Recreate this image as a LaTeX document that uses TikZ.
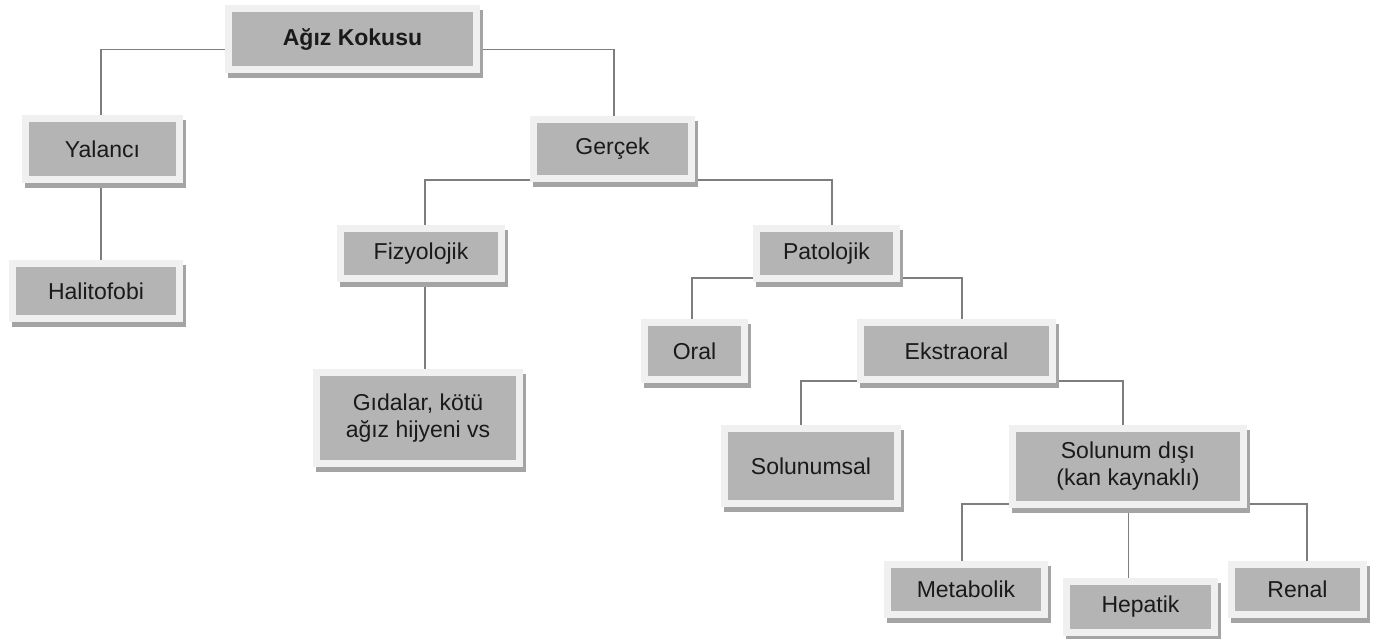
\documentclass[tikz,border=0pt]{standalone}
\usepackage{fontspec}
\setmainfont{Liberation Sans}
\usetikzlibrary{shadows,backgrounds}
\definecolor{framegray}{HTML}{EFF0EF}
\definecolor{innergray}{HTML}{B4B4B4}
\definecolor{shadowgray}{HTML}{A4A4A4}
\definecolor{linegray}{HTML}{7E7E7E}
\definecolor{textgray}{HTML}{1A1A1A}
\tikzset{
  boxnode/.style args={#1x#2}{
    rectangle, inner sep=0pt, minimum width=#1pt, minimum height=#2pt,
    fill=framegray, align=center, text=textgray,
    font=\fontsize{23}{27}\selectfont,
    general shadow={fill=shadowgray, shadow xshift=3pt, shadow yshift=-5pt},
    path picture={\fill[innergray]
      ([shift={(7pt,7pt)}]path picture bounding box.south west) rectangle
      ([shift={(-7pt,-7pt)}]path picture bounding box.north east);}
  },
  conn/.style={draw=linegray, line width=1.4pt}
}
\begin{document}
\begin{tikzpicture}[x=1pt,y=-1pt]
\useasboundingbox (0,0) rectangle (1376,638);
\node[boxnode=255x68, font=\fontsize{23}{27}\selectfont\bfseries] (agiz) at (352.5,39) {Ağız Kokusu};
\node[boxnode=161x68] (yal) at (102.5,149) {Yalancı};
\node[boxnode=174x62] (hal) at (96,291) {Halitofobi};
\node[boxnode=165x66] (ger) at (612.5,149) {Gerçek};
\node[boxnode=168x57] (fiz) at (421,253.5) {Fizyolojik};
\node[boxnode=210x98] (gida) at (418,418) {Gıdalar, kötü\\ağız hijyeni vs};
\node[boxnode=147x57] (pat) at (826.5,253.5) {Patolojik};
\node[boxnode=107x64] (oral) at (694.5,351) {Oral};
\node[boxnode=199x64] (eks) at (956.5,351) {Ekstraoral};
\node[boxnode=180x82] (solu) at (811,466) {Solunumsal};
\node[boxnode=238x83] (sdisi) at (1128,466.5) {Solunum dışı\\(kan kaynaklı)};
\node[boxnode=164x57] (meta) at (966,589.5) {Metabolik};
\node[boxnode=155x58] (hep) at (1140.5,607) {Hepatik};
\node[boxnode=139x57] (renal) at (1297.5,589.5) {Renal};
\begin{scope}[on background layer]
\fill[white] (0,0) rectangle (1376,638);
\draw[conn] ([yshift=-10.5pt]agiz.center) -| ([xshift=-1.5pt]yal.north);
\draw[conn] ([yshift=-10.5pt]agiz.center) -| ([xshift=1.5pt]ger.north);
\draw[conn] ([xshift=-1.5pt]yal.center) -- ([xshift=-1.5pt]yal.center |- hal.north);
\draw[conn] ([yshift=-31pt]ger.center) -| ([xshift=4pt]fiz.north);
\draw[conn] ([yshift=-31pt]ger.center) -| ([xshift=5.5pt]pat.north);
\draw[conn] ([xshift=4pt]fiz.center) -- ([xshift=4pt]fiz.center |- gida.north);
\draw[conn] ([yshift=-24.5pt]pat.center) -| ([xshift=-2.5pt]oral.north);
\draw[conn] ([yshift=-24.5pt]pat.center) -| ([xshift=5.5pt]eks.north);
\draw[conn] ([yshift=-30pt]eks.center) -| ([xshift=-10pt]solu.north);
\draw[conn] ([yshift=-30pt]eks.center) -| ([xshift=-5pt]sdisi.north);
\draw[conn] ([yshift=-37.5pt]sdisi.center) -| ([xshift=-4pt]meta.north);
\draw[conn] ([yshift=-37.5pt]sdisi.center) -| ([xshift=9.5pt]renal.north);
\draw[conn] ([xshift=0.5pt]sdisi.center) -- ([xshift=0.5pt]sdisi.center |- hep.north);
\end{scope}
\end{tikzpicture}
\end{document}
